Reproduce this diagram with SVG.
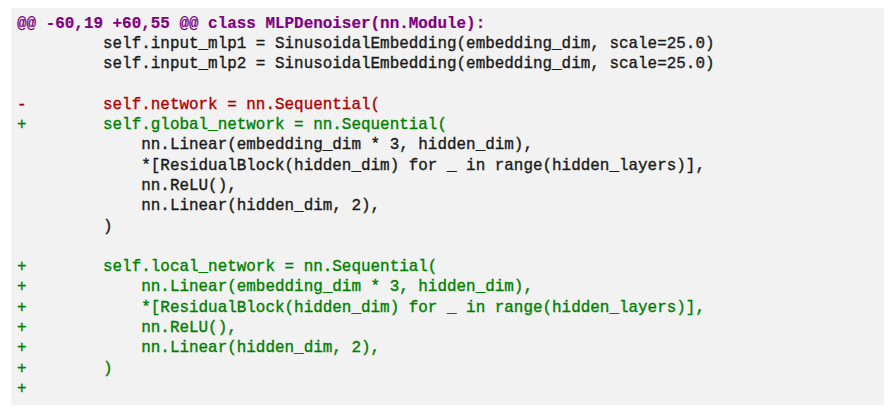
<svg xmlns="http://www.w3.org/2000/svg" width="894" height="416" viewBox="0 0 894 416">
<style>
text{font-family:"Liberation Mono","DejaVu Sans Mono",monospace;font-size:15.93px;white-space:pre;fill:#1a1a1a;stroke:#1a1a1a;stroke-width:0.35px}
.hunk{fill:#800080;stroke:#800080;font-weight:bold;stroke-width:0.2px}
.del{fill:#b00000;stroke:#b00000}
.add{fill:#008000;stroke:#008000}
</style>
<rect x="0" y="0" width="894" height="416" fill="#ffffff"/>
<rect id="panel" x="11" y="8" width="873" height="397" fill="#f2f2f2"/>
<g id="code" xml:space="preserve">
<text class="hunk" x="17" y="27.5">@@ -60,19 +60,55 @@ class MLPDenoiser(nn.Module):</text>
<text x="17" y="47.8">         self.input_mlp1 = SinusoidalEmbedding(embedding_dim, scale=25.0)</text>
<text x="17" y="68.1">         self.input_mlp2 = SinusoidalEmbedding(embedding_dim, scale=25.0)</text>
<text class="del" x="17" y="108.7">-        self.network = nn.Sequential(</text>
<text class="add" x="17" y="129">+        self.global_network = nn.Sequential(</text>
<text x="17" y="149.3">             nn.Linear(embedding_dim * 3, hidden_dim),</text>
<text x="17" y="169.6">             *[ResidualBlock(hidden_dim) for _ in range(hidden_layers)],</text>
<text x="17" y="189.9">             nn.ReLU(),</text>
<text x="17" y="210.2">             nn.Linear(hidden_dim, 2),</text>
<text x="17" y="230.5">         )</text>
<text class="add" x="17" y="271.1">+        self.local_network = nn.Sequential(</text>
<text class="add" x="17" y="291.4">+            nn.Linear(embedding_dim * 3, hidden_dim),</text>
<text class="add" x="17" y="311.7">+            *[ResidualBlock(hidden_dim) for _ in range(hidden_layers)],</text>
<text class="add" x="17" y="332">+            nn.ReLU(),</text>
<text class="add" x="17" y="352.3">+            nn.Linear(hidden_dim, 2),</text>
<text class="add" x="17" y="372.6">+        )</text>
<text class="add" x="17" y="392.9">+</text>
</g>
</svg>
